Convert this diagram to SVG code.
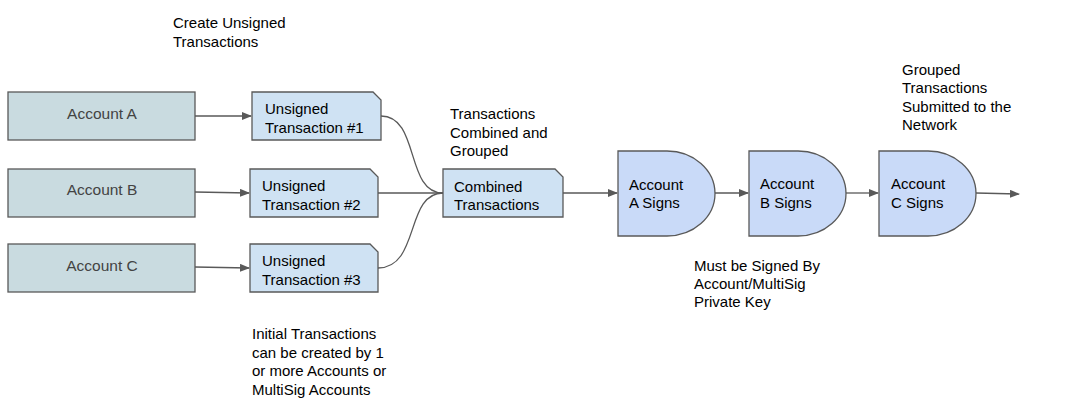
<svg xmlns="http://www.w3.org/2000/svg" width="1069" height="419" viewBox="0 0 1069 419">
<style>
text{font-family:"Liberation Sans",Arial,sans-serif;font-size:15px;fill:#000}
.acc{fill:#c9dbe0;stroke:#595959;stroke-width:1.3}
.acc-t{fill:#434343;text-anchor:middle;font-size:15.5px}
.doc{fill:#cfe2f3;stroke:#595959;stroke-width:1.3}
.sig{fill:#c9daf8;stroke:#595959;stroke-width:1.3}
.c{fill:none;stroke:#595959;stroke-width:1.3}
</style>
<defs>
<marker id="ah" markerWidth="10" markerHeight="8" refX="9" refY="4" orient="auto" markerUnits="userSpaceOnUse">
<path d="M0,0 L10,4 L0,8 Z" fill="#595959"/>
</marker>
</defs>
<g id="connectors">
<path class="c" d="M195,116 L251,116" marker-end="url(#ah)"/>
<path class="c" d="M195,192 L249,193" marker-end="url(#ah)"/>
<path class="c" d="M195,267 L249,268" marker-end="url(#ah)"/>
<path class="c" d="M381,116 C420,116 405,193 443,193"/>
<path class="c" d="M378,193 L443,193"/>
<path class="c" d="M378,268 C420,268 405,193 443,193"/>
<path class="c" d="M563,193 L617,193" marker-end="url(#ah)"/>
<path class="c" d="M715,193 L748,193" marker-end="url(#ah)"/>
<path class="c" d="M846,193 L878,193" marker-end="url(#ah)"/>
<path class="c" d="M976,193 L1019,194" marker-end="url(#ah)"/>
</g>
<g id="accountA"><rect class="acc" x="8" y="92" width="187" height="48"/><text class="acc-t" x="102" y="119">Account A</text></g>
<g id="accountB"><rect class="acc" x="8" y="169" width="187" height="48"/><text class="acc-t" x="102" y="195">Account B</text></g>
<g id="accountC"><rect class="acc" x="8" y="244" width="187" height="48"/><text class="acc-t" x="102" y="271">Account C</text></g>
<g id="unsigned1"><path class="doc" d="M252,92 H373 L381,100 V140 H252 Z"/><text x="265" y="114">Unsigned</text><text x="265" y="133">Transaction #1</text></g>
<g id="unsigned2"><path class="doc" d="M250,169 H370 L378,177 V217 H250 Z"/><text x="262" y="191">Unsigned</text><text x="262" y="210">Transaction #2</text></g>
<g id="unsigned3"><path class="doc" d="M250,244 H370 L378,252 V292 H250 Z"/><text x="262" y="266">Unsigned</text><text x="262" y="285">Transaction #3</text></g>
<g id="combined"><path class="doc" d="M443,169 H555 L563,177 V217 H443 Z"/><text x="454" y="192">Combined</text><text x="454" y="210">Transactions</text></g>
<g id="signA"><path class="sig" d="M618,151 H667 A48,42.5 0 0 1 667,236 H618 Z"/><text x="629" y="190">Account</text><text x="629" y="208">A Signs</text></g>
<g id="signB"><path class="sig" d="M749,151 H798 A48,42.5 0 0 1 798,236 H749 Z"/><text x="760" y="189">Account</text><text x="760" y="208">B Signs</text></g>
<g id="signC"><path class="sig" d="M879,151 H928 A48,42.5 0 0 1 928,236 H879 Z"/><text x="891" y="189">Account</text><text x="891" y="208">C Signs</text></g>
<g id="labels">
<text x="173" y="28">Create Unsigned</text><text x="173" y="47">Transactions</text>
<text x="450" y="119">Transactions</text><text x="450" y="138">Combined and</text><text x="450" y="156">Grouped</text>
<text x="902" y="75">Grouped</text><text x="902" y="93">Transactions</text><text x="902" y="112">Submitted to the</text><text x="902" y="130">Network</text>
<text x="694" y="271">Must be Signed By</text><text x="694" y="289">Account/MultiSig</text><text x="694" y="307">Private Key</text>
<text x="252" y="339">Initial Transactions</text><text x="252" y="358">can be created by 1</text><text x="252" y="376">or more Accounts or</text><text x="252" y="395">MultiSig Accounts</text>
</g>
</svg>
